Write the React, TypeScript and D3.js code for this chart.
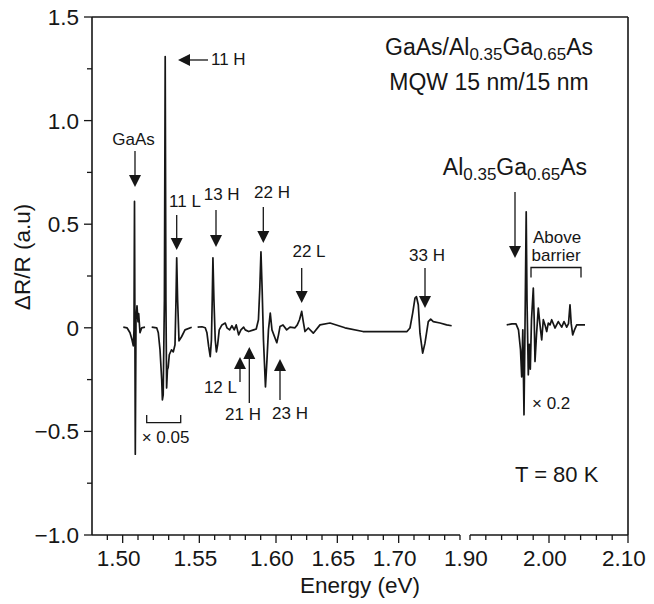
import React from "react";
import * as d3 from "d3";

// ---- spectrum segments: [energy (eV), ΔR/R (a.u.)] ----
const segGaAs: [number, number][] = [
  [1.50041, 0.003], [1.50283, 0.0], [1.50478, -0.024], [1.50609, -0.058],
  [1.50694, -0.087], [1.50739, -0.01], [1.50772, 0.61], [1.50824, -0.61],
  [1.5087, 0.04], [1.50935, 0.106], [1.51, 0.029], [1.51045, 0.068],
  [1.5113, -0.024], [1.51241, 0.0], [1.51457, 0.003],
];

const segWell1: [number, number][] = [
  [1.51894, 0.003], [1.5222, 0.0], [1.52324, -0.024], [1.52435, -0.106],
  [1.52546, -0.251], [1.52591, -0.348], [1.52643, -0.324], [1.52722, 0.135],
  [1.52774, 1.309], [1.5282, 0.135], [1.52866, -0.29], [1.52918, -0.203],
  [1.5297, -0.19], [1.53041, -0.13], [1.53185, -0.106], [1.53302, -0.116],
  [1.53413, -0.082], [1.53478, 0.135], [1.53524, 0.338], [1.53583, 0.135],
  [1.53674, -0.063], [1.5385, -0.042], [1.54065, -0.01], [1.54502, 0.003],
];

const segWell2: [number, number][] = [
  [1.54889, 0.003], [1.5517, 0.005], [1.55385, 0.0], [1.55496, -0.024],
  [1.55607, -0.09], [1.55711, -0.139], [1.55789, -0.058], [1.55841, 0.135],
  [1.55887, 0.338], [1.55952, 0.135], [1.56037, -0.058], [1.56115, -0.116],
  [1.56193, -0.082], [1.56298, -0.01], [1.56474, 0.014], [1.5669, 0.023],
  [1.568, 0.0], [1.56976, -0.01], [1.57126, 0.01], [1.57276, -0.01],
  [1.57407, 0.014], [1.57563, -0.034], [1.57713, -0.01], [1.57889, 0.003],
  [1.57994, -0.01], [1.58215, -0.018], [1.58541, -0.01], [1.58711, -0.006],
  [1.58855, 0.039], [1.5894, 0.184], [1.59019, 0.367], [1.59097, 0.184],
  [1.59182, -0.058], [1.59313, -0.285], [1.59411, -0.155], [1.59508, -0.01],
  [1.59626, 0.071], [1.59737, -0.01], [1.60065, -0.072], [1.60204, -0.034],
  [1.60326, 0.006], [1.6057, 0.014], [1.60872, -0.01], [1.61141, 0.003],
  [1.61549, 0.0], [1.61736, 0.014], [1.61916, 0.039], [1.62095, 0.079],
  [1.62226, 0.029], [1.62364, -0.018], [1.62633, -0.001], [1.6304, -0.026],
  [1.63587, 0.014], [1.644, 0.023], [1.65623, 0.0], [1.67091, -0.018],
  [1.68884, -0.018], [1.70679, -0.018], [1.70922, -0.001], [1.71142, 0.071],
  [1.7133, 0.143], [1.71452, 0.15], [1.71599, 0.111], [1.71737, -0.026],
  [1.71957, -0.122], [1.72145, -0.074], [1.72414, 0.03], [1.7261, 0.042],
  [1.72822, 0.03], [1.73368, 0.023], [1.73914, 0.014], [1.7432, 0.01],
];

const segBarrier: [number, number][] = [
  [1.94646, 0.014], [1.95316, 0.019], [1.95823, 0.019], [1.96139, -0.01],
  [1.96392, -0.106], [1.96544, -0.237], [1.96684, -0.01], [1.96835, -0.42],
  [1.97, 0.135], [1.97114, 0.56], [1.97215, 0.135], [1.9738, -0.227],
  [1.97506, -0.08], [1.97633, -0.2], [1.97785, 0.039], [1.98013, 0.192],
  [1.98127, 0.039], [1.98228, -0.163], [1.98418, -0.034], [1.98646, 0.095],
  [1.98861, 0.014], [1.99076, -0.058], [1.99278, 0.039], [1.99494, 0.014],
  [1.99709, -0.018], [1.99911, 0.023], [2.00127, 0.014], [2.00342, 0.039],
  [2.00759, -0.001], [2.01177, 0.03], [2.01608, 0.003], [2.01899, 0.03],
  [2.02241, 0.003], [2.02468, 0.02], [2.02658, 0.111], [2.0281, 0.02],
  [2.03, -0.034], [2.03228, -0.01], [2.03506, 0.014], [2.03924, 0.014],
  [2.04557, 0.014],
];

// ---- axes ----
const yMajor = [-1.0, -0.5, 0, 0.5, 1.0, 1.5];
const yMajorLabels = ["\u22121.0", "\u22120.5", "0", "0.5", "1.0", "1.5"];
const yMinor = [-0.75, -0.25, 0.25, 0.75, 1.25];

const xMajor = [1.5, 1.55, 1.6, 1.65, 1.7, 1.9, 2.0, 2.1];
const xMajorLabels = ["1.50", "1.55", "1.60", "1.65", "1.70", "1.90", "2.00", "2.10"];
const xMajorLong = [true, true, true, true, true, false, true, true];
const xMinorLeftA = [1.49, 1.51, 1.52, 1.53, 1.54, 1.56, 1.57, 1.58, 1.59];
const xMinorLeftB = [1.6125, 1.625, 1.6375, 1.6625, 1.675, 1.6875, 1.7125, 1.725, 1.7375, 1.75];
const xMinorRight = [1.92, 1.94, 1.96, 1.98, 2.02, 2.04, 2.06, 2.08];

// ---- annotations (data coordinates) ----
const downArrows = [
  { e: 1.50804, from: 0.853, to: 0.68 },
  { e: 1.53524, from: 0.544, to: 0.376 },
  { e: 1.56087, from: 0.569, to: 0.39 },
  { e: 1.59172, from: 0.583, to: 0.409 },
  { e: 1.62095, from: 0.289, to: 0.12 },
  { e: 1.72147, from: 0.289, to: 0.096 },
  { e: 1.95696, from: 0.655, to: 0.337 },
];
const upArrows = [
  { e: 1.57652, from: -0.262, to: -0.141 },
  { e: 1.58259, from: -0.363, to: -0.093 },
  { e: 1.60326, from: -0.349, to: -0.151 },
];
const peakLabels = [
  { text: "GaAs", e: 1.50707, v: 0.882, anchor: "middle" },
  { text: "11 L", e: 1.54065, v: 0.583, anchor: "middle" },
  { text: "13 H", e: 1.56459, v: 0.617, anchor: "middle" },
  { text: "22 H", e: 1.59739, v: 0.626, anchor: "middle" },
  { text: "22 L", e: 1.6269, v: 0.342, anchor: "middle" },
  { text: "33 H", e: 1.7231, v: 0.322, anchor: "middle" },
  { text: "12 L", e: 1.57457, v: -0.315, anchor: "end" },
  { text: "21 H", e: 1.57848, v: -0.445, anchor: "middle" },
  { text: "23 H", e: 1.61141, v: -0.44, anchor: "middle" },
  { text: "11 H", e: 1.55761, v: 1.268, anchor: "start" },
  { text: "\u00d7 0.05", e: 1.51241, v: -0.556, anchor: "start" },
  { text: "\u00d7 0.2", e: 1.97848, v: -0.392, anchor: "start" },
  { text: "Above", e: 1.97975, v: 0.409, anchor: "start" },
  { text: "barrier", e: 1.97785, v: 0.322, anchor: "start" },
];

const W = 654;
const H = 604;
const plotTop = 17;
const plotBottom = 535;
const plotLeft = 92;
const plotRight = 628;

const xLeft = d3.scaleLinear().domain([1.48, 1.6, 1.75]).range([plotLeft, 276, 460]);
const xRight = d3.scaleLinear().domain([1.9, 2.1]).range([470, plotRight]);
const X = (e: number) => (e < 1.8 ? xLeft(e) : xRight(e));
const Y = d3.scaleLinear().domain([-1, 1.5]).range([plotBottom, plotTop]);

const FONT = "'Liberation Sans', Arial, Helvetica, sans-serif";
const INK = "#161616";

export default function App() {
  const line = d3
    .line<[number, number]>()
    .x((d) => X(d[0]))
    .y((d) => Y(d[1]));
  const segs = [segGaAs, segWell1, segWell2, segBarrier];

  return (
    <svg
      width={W}
      height={H}
      style={{ position: "absolute", left: 0, top: 0, background: "#fff" }}
      fontFamily={FONT}
    >
      <rect x={0} y={0} width={W} height={H} fill="#fff" />
      {/* frame */}
      <g stroke={INK} strokeWidth={1.6} fill="none">
        <line x1={plotLeft} y1={plotTop} x2={plotLeft} y2={plotBottom} />
        <line x1={plotLeft} y1={plotTop} x2={plotRight} y2={plotTop} />
        <line x1={plotRight} y1={plotTop} x2={plotRight} y2={plotBottom} />
        <line x1={plotLeft} y1={plotBottom} x2={xLeft(1.75)} y2={plotBottom} />
        <line x1={xRight(1.9)} y1={plotBottom} x2={plotRight} y2={plotBottom} />
      </g>
      {/* y ticks */}
      <g stroke={INK} strokeWidth={1.3}>
        {yMajor.map((v) => (
          <line key={"ym" + v} x1={plotLeft - 8} x2={plotLeft} y1={Y(v)} y2={Y(v)} />
        ))}
        {yMinor.map((v) => (
          <line key={"yn" + v} x1={plotLeft - 5} x2={plotLeft} y1={Y(v)} y2={Y(v)} />
        ))}
      </g>
      <g fontSize={22.5} fill={INK} textAnchor="end">
        {yMajor.map((v, i) => (
          <text key={"yl" + v} x={79} y={Y(v) + 8}>
            {yMajorLabels[i]}
          </text>
        ))}
      </g>
      {/* x ticks */}
      <g stroke={INK} strokeWidth={1.3}>
        {xMajor.map((e, i) => (
          <line key={"xm" + e} x1={X(e)} x2={X(e)} y1={plotBottom} y2={plotBottom + (xMajorLong[i] ? 8 : 5)} />
        ))}
        {[...xMinorLeftA, ...xMinorLeftB, ...xMinorRight].map((e) => (
          <line key={"xn" + e} x1={X(e)} x2={X(e)} y1={plotBottom} y2={plotBottom + 5} />
        ))}
      </g>
      <g fontSize={22.5} fill={INK} textAnchor="middle">
        {xMajor.map((e, i) => (
          <text key={"xl" + e} x={X(e) - 4} y={566}>
            {xMajorLabels[i]}
          </text>
        ))}
      </g>
      <text x={360} y={593} fontSize={22.5} textAnchor="middle" fill={INK}>
        Energy (eV)
      </text>
      <text
        transform="translate(30,257) rotate(-90)"
        fontSize={22.5}
        textAnchor="middle"
        fill={INK}
      >
        ΔR/R (a.u)
      </text>

      {/* spectrum */}
      <g fill="none" stroke={INK} strokeWidth={1.7} strokeLinejoin="round">
        {segs.map((s, i) => (
          <path key={"s" + i} d={line(s) || ""} />
        ))}
      </g>

      {/* arrows */}
      <g stroke={INK} strokeWidth={1.3} fill={INK}>
        {downArrows.map((a, i) => {
          const x = X(a.e);
          const y0 = Y(a.from);
          const y1 = Y(a.to);
          return (
            <g key={"da" + i}>
              <line x1={x} x2={x} y1={y0} y2={y1 - 10} />
              <path d={`M${x - 6},${y1 - 12}L${x + 6},${y1 - 12}L${x},${y1}Z`} stroke="none" />
            </g>
          );
        })}
        {upArrows.map((a, i) => {
          const x = X(a.e);
          const y0 = Y(a.from);
          const y1 = Y(a.to);
          return (
            <g key={"ua" + i}>
              <line x1={x} x2={x} y1={y0} y2={y1 + 10} />
              <path d={`M${x - 6},${y1 + 12}L${x + 6},${y1 + 12}L${x},${y1}Z`} stroke="none" />
            </g>
          );
        })}
        {(() => {
          const xa = X(1.55565);
          const xt = X(1.53609);
          const y = Y(1.2925);
          return (
            <g>
              <line x1={xa} x2={xt + 10} y1={y} y2={y} />
              <path d={`M${xt + 12},${y - 6}L${xt + 12},${y + 6}L${xt},${y}Z`} stroke="none" />
            </g>
          );
        })()}
      </g>

      {/* brackets */}
      <g stroke={INK} strokeWidth={1.3} fill="none">
        <path
          d={`M${X(1.51567)},${Y(-0.421)}V${Y(-0.458)}H${X(1.53785)}V${Y(-0.421)}`}
        />
        <path
          d={`M${X(1.97722)},${Y(0.243)}V${Y(0.291)}H${X(2.04051)}V${Y(0.243)}`}
        />
      </g>

      {/* peak labels */}
      <g fontSize={17} fill={INK}>
        {peakLabels.map((l, i) => (
          <text key={"pl" + i} x={X(l.e)} y={Y(l.v)} textAnchor={l.anchor as any}>
            {l.text}
          </text>
        ))}
      </g>

      {/* titles */}
      <g fill={INK} fontSize={23}>
        <text x={X(1.68886)} y={Y(1.3166)}>
          GaAs/Al<tspan fontSize={17} dy={5}>0.35</tspan>
          <tspan dy={-5}>Ga</tspan>
          <tspan fontSize={17} dy={5}>0.65</tspan>
          <tspan dy={-5}>As</tspan>
        </text>
        <text x={X(1.92405)} y={Y(1.1477)} textAnchor="middle">
          MQW 15 nm/15 nm
        </text>
        <text x={X(2.0481)} y={Y(0.7375)} textAnchor="end">
          Al<tspan fontSize={17} dy={5}>0.35</tspan>
          <tspan dy={-5}>Ga</tspan>
          <tspan fontSize={17} dy={5}>0.65</tspan>
          <tspan dy={-5}>As</tspan>
        </text>
        <text x={X(1.95696)} y={Y(-0.7442)} fontSize={22}>
          T = 80 K
        </text>
      </g>
    </svg>
  );
}
